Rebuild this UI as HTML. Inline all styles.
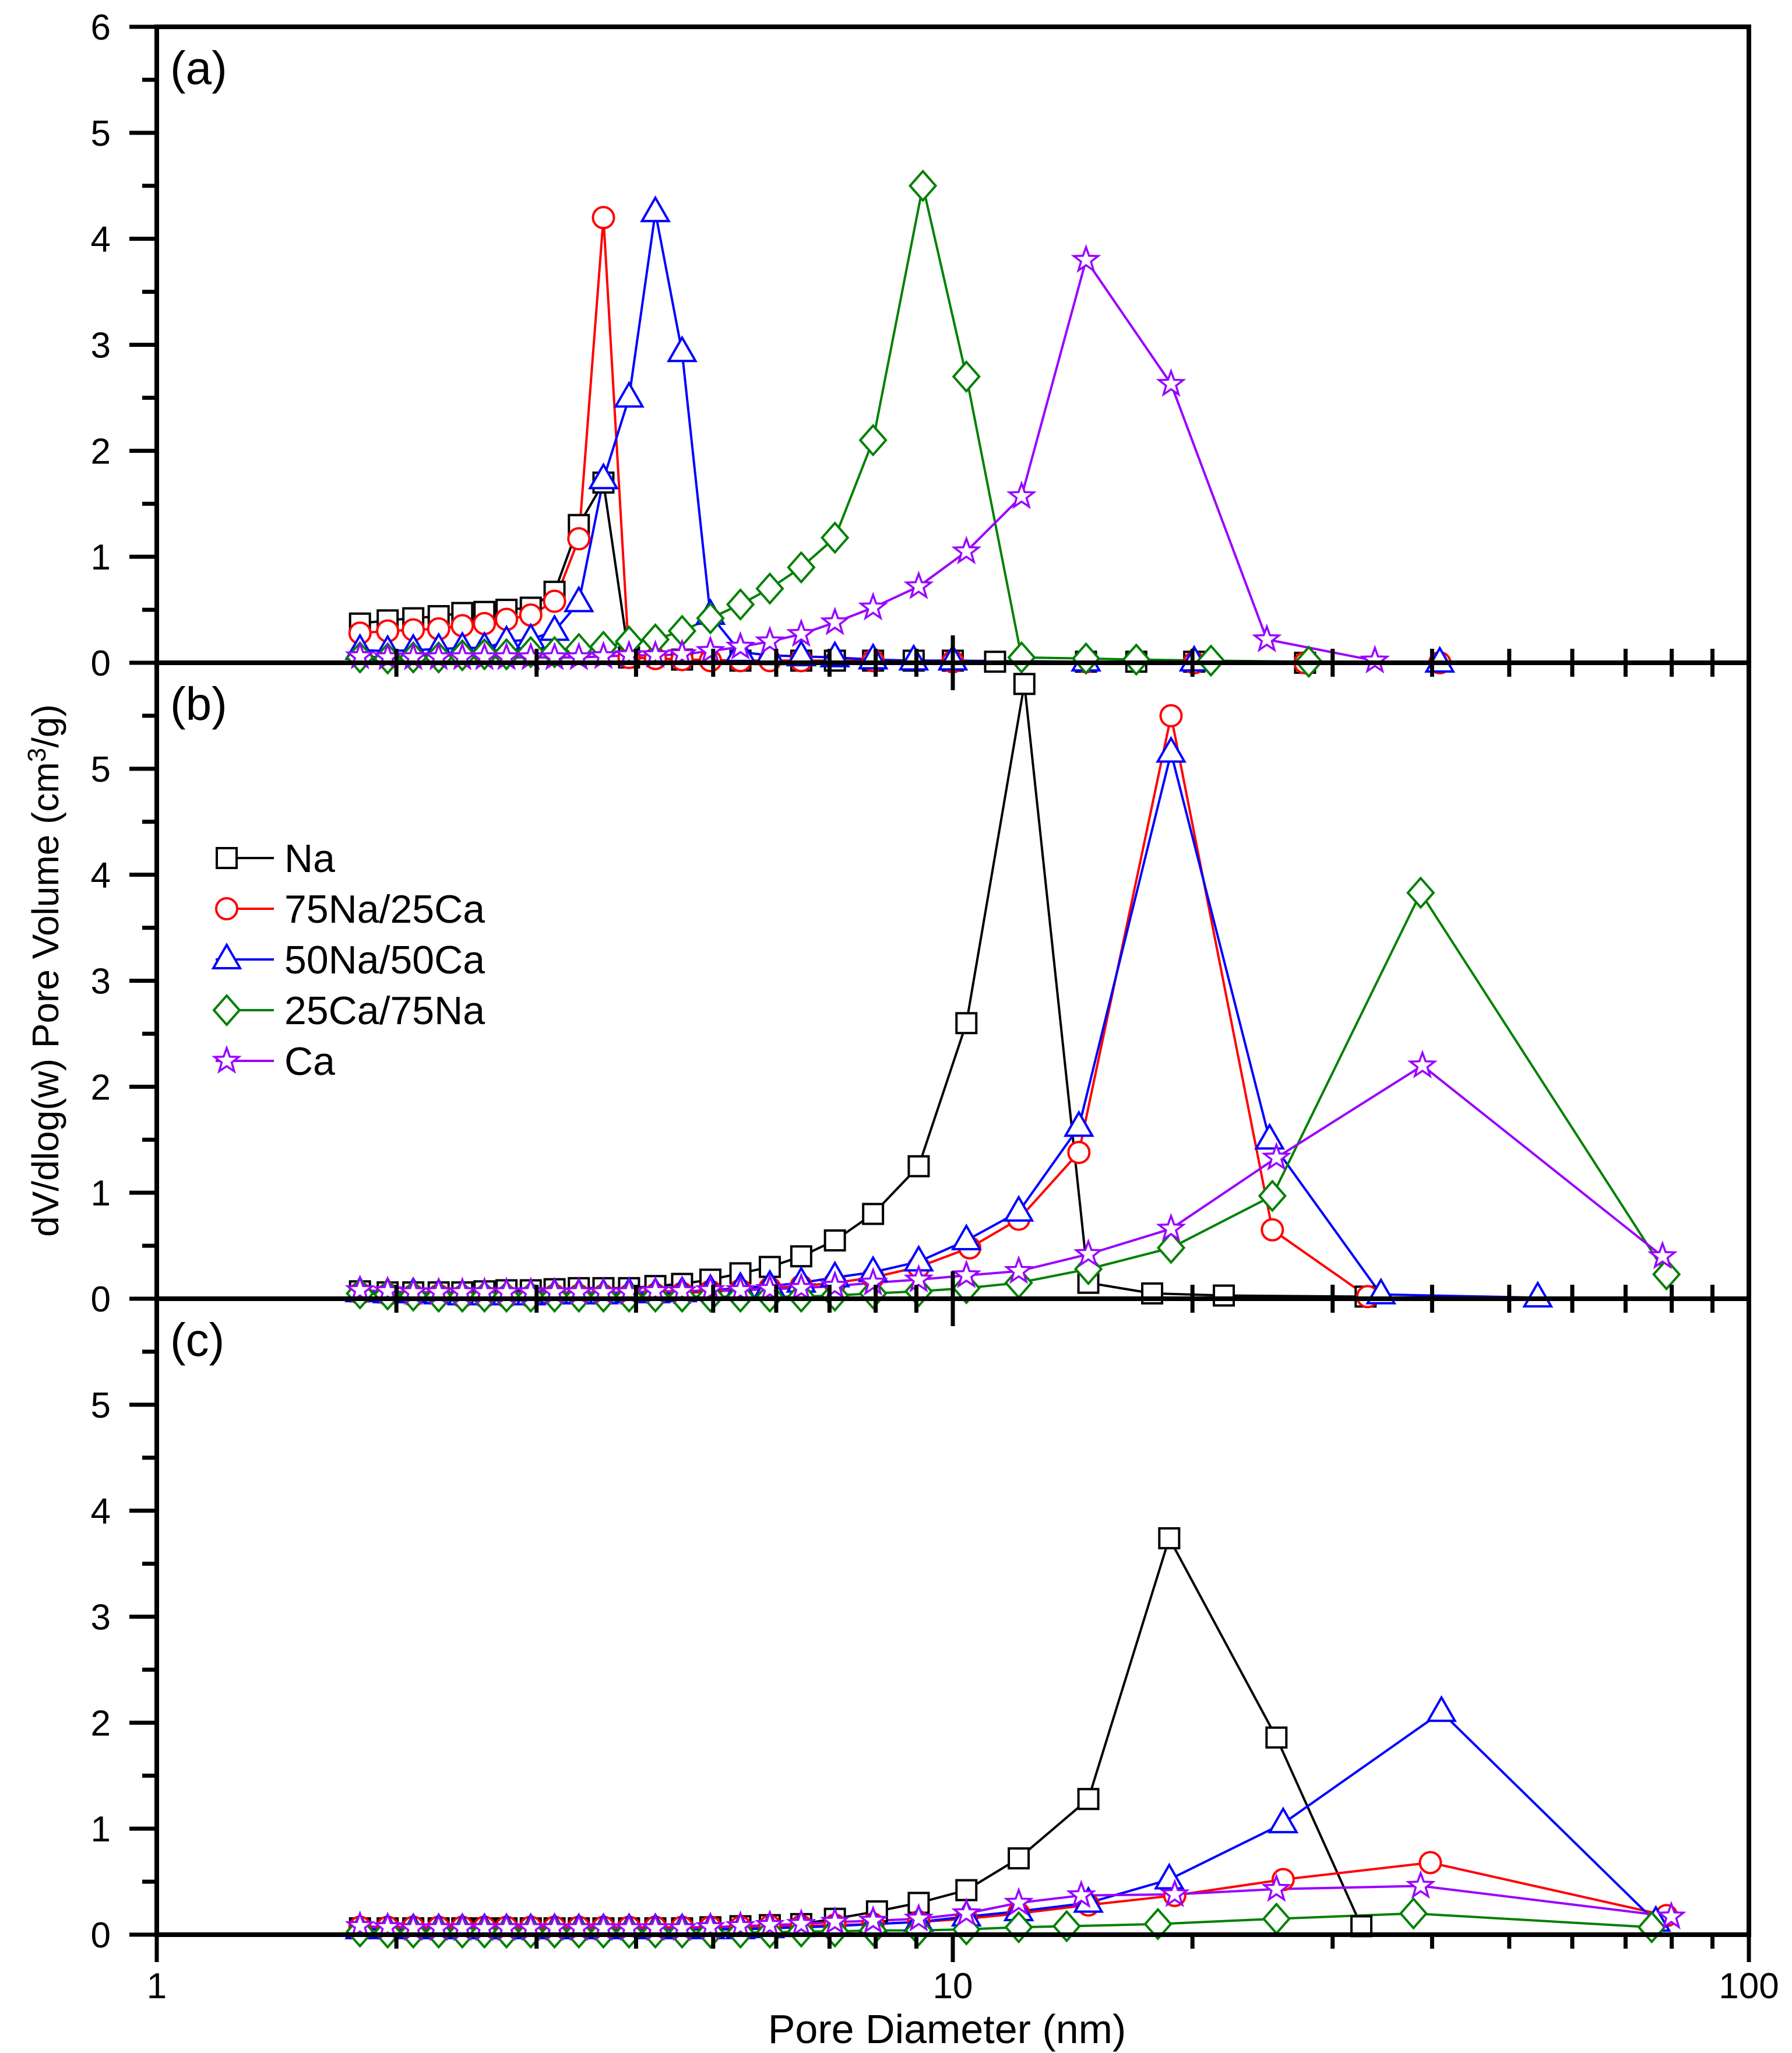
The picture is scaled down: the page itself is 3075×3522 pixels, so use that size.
<!DOCTYPE html>
<html><head><meta charset="utf-8"><style>
html,body{margin:0;padding:0;background:#fff;}
svg{display:block;font-family:"Liberation Sans",Arial,sans-serif;}
</style></head><body>
<svg id="chart" width="3075" height="3522" viewBox="0 0 3075 3522" xmlns="http://www.w3.org/2000/svg"></svg>
<script>
// ---- data (nm, dV/dlog(w)) ----
const lowX = [1.80,1.95,2.10,2.26,2.42,2.58,2.75,2.95,3.16,3.39,3.64,3.92,4.23,4.57,4.96,5.41,5.89,6.45,7.11,7.94,8.93];
// Panel (a)
const aNaX = [1.80,1.95,2.10,2.26,2.42,2.58,2.75,2.95,3.16,3.39,3.64,3.92,4.57,5.41,6.45,7.11,7.94,8.93,10.0,11.3,14.7,17.0,20.1,27.7];
const aNaY = [0.37,0.40,0.42,0.44,0.47,0.48,0.50,0.52,0.67,1.30,1.70,0.05,0.03,0.02,0.02,0.02,0.02,0.02,0.02,0.01,0.01,0.01,0.01,0.0];
const aR1X = [1.80,1.95,2.10,2.26,2.42,2.58,2.75,2.95,3.16,3.39,3.64,3.92,4.23,4.57,4.96,5.41,5.89,6.45,7.94,10.0,14.7,20.1,27.7,40.9];
const aR1Y = [0.28,0.30,0.31,0.32,0.35,0.37,0.41,0.45,0.58,1.17,4.20,0.05,0.04,0.03,0.02,0.02,0.02,0.02,0.02,0.01,0.01,0.0,0.0,0.0];
const aBlX = [1.80,1.95,2.10,2.26,2.42,2.58,2.75,2.95,3.16,3.39,3.64,3.92,4.23,4.57,4.96,5.41,5.89,6.45,7.11,7.94,8.93,10.0,14.7,20.1,40.9];
const aBlY = [0.12,0.11,0.12,0.13,0.14,0.14,0.20,0.22,0.30,0.57,1.73,2.50,4.25,2.93,0.45,0.10,0.07,0.06,0.05,0.03,0.02,0.02,0.01,0.01,0.0];
const aGrX = [1.80,1.95,2.10,2.26,2.42,2.58,2.75,2.95,3.16,3.39,3.64,3.92,4.23,4.57,4.96,5.41,5.89,6.45,7.11,7.94,9.17,10.4,12.2,14.7,17.0,21.1,28.0];
const aGrY = [0.05,0.04,0.05,0.05,0.07,0.08,0.08,0.10,0.10,0.13,0.15,0.20,0.22,0.30,0.42,0.55,0.70,0.90,1.18,2.10,4.50,2.70,0.05,0.04,0.03,0.02,0.01];
const aPuX = [1.80,1.95,2.10,2.26,2.42,2.58,2.75,2.95,3.16,3.39,3.64,3.92,4.23,4.57,4.96,5.41,5.89,6.45,7.11,7.94,9.06,10.4,12.2,14.7,18.8,24.8,33.9];
const aPuY = [0.06,0.05,0.05,0.05,0.05,0.05,0.05,0.05,0.05,0.05,0.06,0.07,0.07,0.08,0.11,0.15,0.20,0.27,0.38,0.52,0.72,1.05,1.57,3.80,2.63,0.22,0.02];
// Panel (b)
const bNaX = lowX.slice(0,20).concat([9.06,10.4,12.3,14.8,17.8,21.9,33.0]);
const bNaY = [0.07,0.06,0.06,0.06,0.06,0.07,0.08,0.08,0.09,0.10,0.10,0.10,0.12,0.14,0.18,0.24,0.30,0.40,0.55,0.80,1.25,2.60,5.80,0.15,0.05,0.03,0.02];
const bR1X = lowX.slice(0,20).concat([9.06,10.5,12.1,14.4,18.8,25.2,33.2]);
const bR1Y = [0.05,0.04,0.03,0.03,0.02,0.02,0.02,0.02,0.03,0.03,0.03,0.03,0.04,0.05,0.07,0.08,0.10,0.12,0.15,0.20,0.30,0.48,0.75,1.38,5.50,0.65,0.02];
const bBlX = lowX.slice(0,20).concat([9.06,10.4,12.1,14.4,18.8,25.0,34.5,54.3]);
const bBlY = [0.06,0.05,0.05,0.04,0.03,0.03,0.03,0.03,0.04,0.04,0.04,0.05,0.05,0.06,0.08,0.10,0.12,0.15,0.20,0.25,0.35,0.55,0.82,1.62,5.15,1.50,0.04,0.01];
const bGrX = lowX.slice(0,20).concat([9.06,10.4,12.1,14.8,18.8,25.2,38.7,78.8]);
const bGrY = [0.05,0.04,0.03,0.02,0.02,0.02,0.02,0.02,0.02,0.02,0.02,0.02,0.02,0.02,0.02,0.02,0.02,0.02,0.03,0.05,0.07,0.10,0.15,0.28,0.48,0.97,3.83,0.23];
const bPuX = lowX.slice(0,20).concat([9.06,10.4,12.1,14.8,18.8,25.5,38.9,77.9]);
const bPuY = [0.08,0.07,0.06,0.06,0.06,0.06,0.06,0.06,0.06,0.06,0.06,0.06,0.07,0.07,0.08,0.08,0.09,0.10,0.12,0.15,0.18,0.22,0.26,0.42,0.66,1.33,2.20,0.40];
// Panel (c)
const cNaX = lowX.slice(0,17).concat([6.45,7.11,8.03,9.06,10.4,12.1,14.8,18.7,25.5,32.6]);
const cNaY = [0.06,0.06,0.06,0.06,0.06,0.06,0.06,0.06,0.06,0.06,0.06,0.06,0.06,0.06,0.07,0.08,0.09,0.10,0.15,0.22,0.30,0.42,0.72,1.28,3.74,1.86,0.08];
const cR1X = lowX.slice(0,20).concat([9.06,10.4,12.1,14.8,19.0,26.0,39.8,78.8]);
const cR1Y = [0.07,0.07,0.07,0.07,0.07,0.07,0.07,0.07,0.07,0.07,0.07,0.07,0.07,0.07,0.07,0.07,0.08,0.08,0.09,0.10,0.12,0.15,0.20,0.28,0.37,0.52,0.68,0.18];
const cBlX = lowX.slice(0,20).concat([9.06,10.4,12.1,14.8,18.7,26.0,41.1,76.4]);
const cBlY = [0.05,0.05,0.05,0.05,0.05,0.05,0.05,0.05,0.05,0.05,0.05,0.05,0.05,0.05,0.05,0.05,0.06,0.07,0.08,0.10,0.12,0.17,0.22,0.30,0.52,1.05,2.10,0.12];
const cGrX = lowX.slice(0,20).concat([9.06,10.4,12.1,13.9,18.1,25.5,37.9,75.5]);
const cGrY = [0.03,0.02,0.02,0.02,0.02,0.02,0.02,0.02,0.02,0.02,0.02,0.02,0.02,0.02,0.02,0.02,0.02,0.03,0.03,0.04,0.04,0.05,0.07,0.08,0.10,0.15,0.20,0.07];
const cPuX = lowX.slice(0,20).concat([9.06,10.4,12.1,14.5,19.0,25.5,38.7,79.9]);
const cPuY = [0.08,0.07,0.06,0.06,0.06,0.06,0.06,0.06,0.06,0.06,0.06,0.06,0.06,0.06,0.07,0.08,0.09,0.10,0.12,0.13,0.15,0.20,0.30,0.37,0.38,0.43,0.46,0.17];

const yTicksA = [0,1,2,3,4,5,6];
const yTicksBC = [0,1,2,3,4,5];
const xTickLabels = ["1","10","100"];
const seriesNames = ["Na","75Na/25Ca","50Na/50Ca","25Ca/75Na","Ca"];
const colors = ["#000000","#ff0000","#0000ff","#008000","#9900ff"];

// ---- layout ----
const NS = "http://www.w3.org/2000/svg";
const svg = document.getElementById("chart");
const L = 269, R = 3001;
const panelTops = [46, 1137, 2228];
const PH = 1091;
function xs(v){ return L + Math.log10(v) * (R - L) / 2; }
function mk(tag, attrs, parent){ const e = document.createElementNS(NS, tag); for (const k in attrs) e.setAttribute(k, attrs[k]); (parent||svg).appendChild(e); return e; }

function marker(g, type, x, y, c){
  let e;
  if (type === 0) e = mk("rect", {x:x-17, y:y-17, width:34, height:34, fill:"#fff", stroke:c, "stroke-width":4}, g);
  else if (type === 1) e = mk("circle", {cx:x, cy:y, r:18, fill:"#fff", stroke:c, "stroke-width":4}, g);
  else if (type === 2) e = mk("polygon", {points:`${x},${y-25} ${x+23},${y+15} ${x-23},${y+15}`, fill:"#fff", stroke:c, "stroke-width":4}, g);
  else if (type === 3) e = mk("polygon", {points:`${x},${y-25} ${x+22},${y} ${x},${y+25} ${x-22},${y}`, fill:"#fff", stroke:c, "stroke-width":4}, g);
  else {
    let p = [];
    for (let i = 0; i < 10; i++){ const a = -Math.PI/2 + i*Math.PI/5; const r = i%2 ? 9 : 22; p.push((x + r*Math.cos(a)).toFixed(1) + "," + (y + r*Math.sin(a)).toFixed(1)); }
    e = mk("polygon", {points:p.join(" "), fill:"#fff", stroke:c, "stroke-width":3.5}, g);
  }
  return e;
}

const panels = [
  {label:"(a)", ticks:yTicksA, data:[[aNaX,aNaY],[aR1X,aR1Y],[aBlX,aBlY],[aGrX,aGrY],[aPuX,aPuY]]},
  {label:"(b)", ticks:yTicksBC, data:[[bNaX,bNaY],[bR1X,bR1Y],[bBlX,bBlY],[bGrX,bGrY],[bPuX,bPuY]]},
  {label:"(c)", ticks:yTicksBC, data:[[cNaX,cNaY],[cR1X,cR1Y],[cBlX,cBlY],[cGrX,cGrY],[cPuX,cPuY]]}
];

panels.forEach((p, pi) => {
  const top = panelTops[pi], bot = top + PH;
  const ys = v => bot - v * PH / 6;
  const g = mk("g", {});
  
  
  p.data.forEach((d, si) => {
    const sg = mk("g", {}, g);
    
    
    const pts = d[0].map((xv, i) => xs(xv).toFixed(1) + "," + ys(d[1][i]).toFixed(1)).join(" ");
    mk("polyline", {points:pts, fill:"none", stroke:colors[si], "stroke-width":4, "stroke-linejoin":"miter"}, sg);
  });
  p.data.forEach((d, si) => {
    d[0].forEach((xv, i) => {
      const m = marker(g, si, xs(xv), ys(d[1][i]), colors[si]);
      
      
    });
  });
  for (let v = 0; v <= 6; v += 0.5){
    if (pi > 0 && v === 6) continue;
    const major = Number.isInteger(v);
    mk("line", {x1:L-(major?47:25), x2:L, y1:ys(v), y2:ys(v), stroke:"#000", "stroke-width":7}, g);
  }
  p.ticks.forEach(v => {
    const t = mk("text", {x:190, y:ys(v)+22, "font-size":62, "text-anchor":"end"}, g);
    t.textContent = v;
    
    
  });
  for (let dec = 0; dec < 2; dec++){
    for (let k = 1; k <= 10; k++){
      const v = Math.pow(10, dec) * k;
      const x = xs(v); const major = (k === 1 || k === 10);
      const len = major ? 47 : 24;
      mk("line", {x1:x, x2:x, y1: pi < 2 ? bot - len : bot, y2: bot + len, stroke:"#000", "stroke-width":7}, g);
    }
  }
  mk("rect", {x:L, y:top, width:R-L, height:PH, fill:"none", stroke:"#000", "stroke-width":8}, g);
  const lab = mk("text", {x:292, y:top+98, "font-size":80}, g);
  lab.textContent = p.label;
  
  
});

xTickLabels.forEach((s, i) => {
  const t = mk("text", {x:xs(Math.pow(10,i)), y:3428, "font-size":62, "text-anchor":"middle"});
  t.textContent = s;
  
  
});
const xt = mk("text", {x:1625, y:3505, "font-size":70, "text-anchor":"middle"});
xt.textContent = "Pore Diameter (nm)";


const yt = mk("text", {x:0, y:0, "font-size":64, "text-anchor":"middle", transform:"translate(100,1665) rotate(-90)"});
yt.innerHTML = 'dV/dlog(w) Pore Volume (cm<tspan dy="-22" font-size="44">3</tspan><tspan dy="22">/g)</tspan>';



const lg = mk("g", {});


seriesNames.forEach((n, i) => {
  const y = 1472 + i * 87;
  const e = mk("g", {}, lg);
  
  
  mk("line", {x1:370, x2:470, y1:y, y2:y, stroke:colors[i], "stroke-width":4}, e);
  marker(e, i, 389, y, colors[i]);
  const t = mk("text", {x:488, y:y+24, "font-size":68}, e);
  t.textContent = n;
});
</script>
</body></html>
